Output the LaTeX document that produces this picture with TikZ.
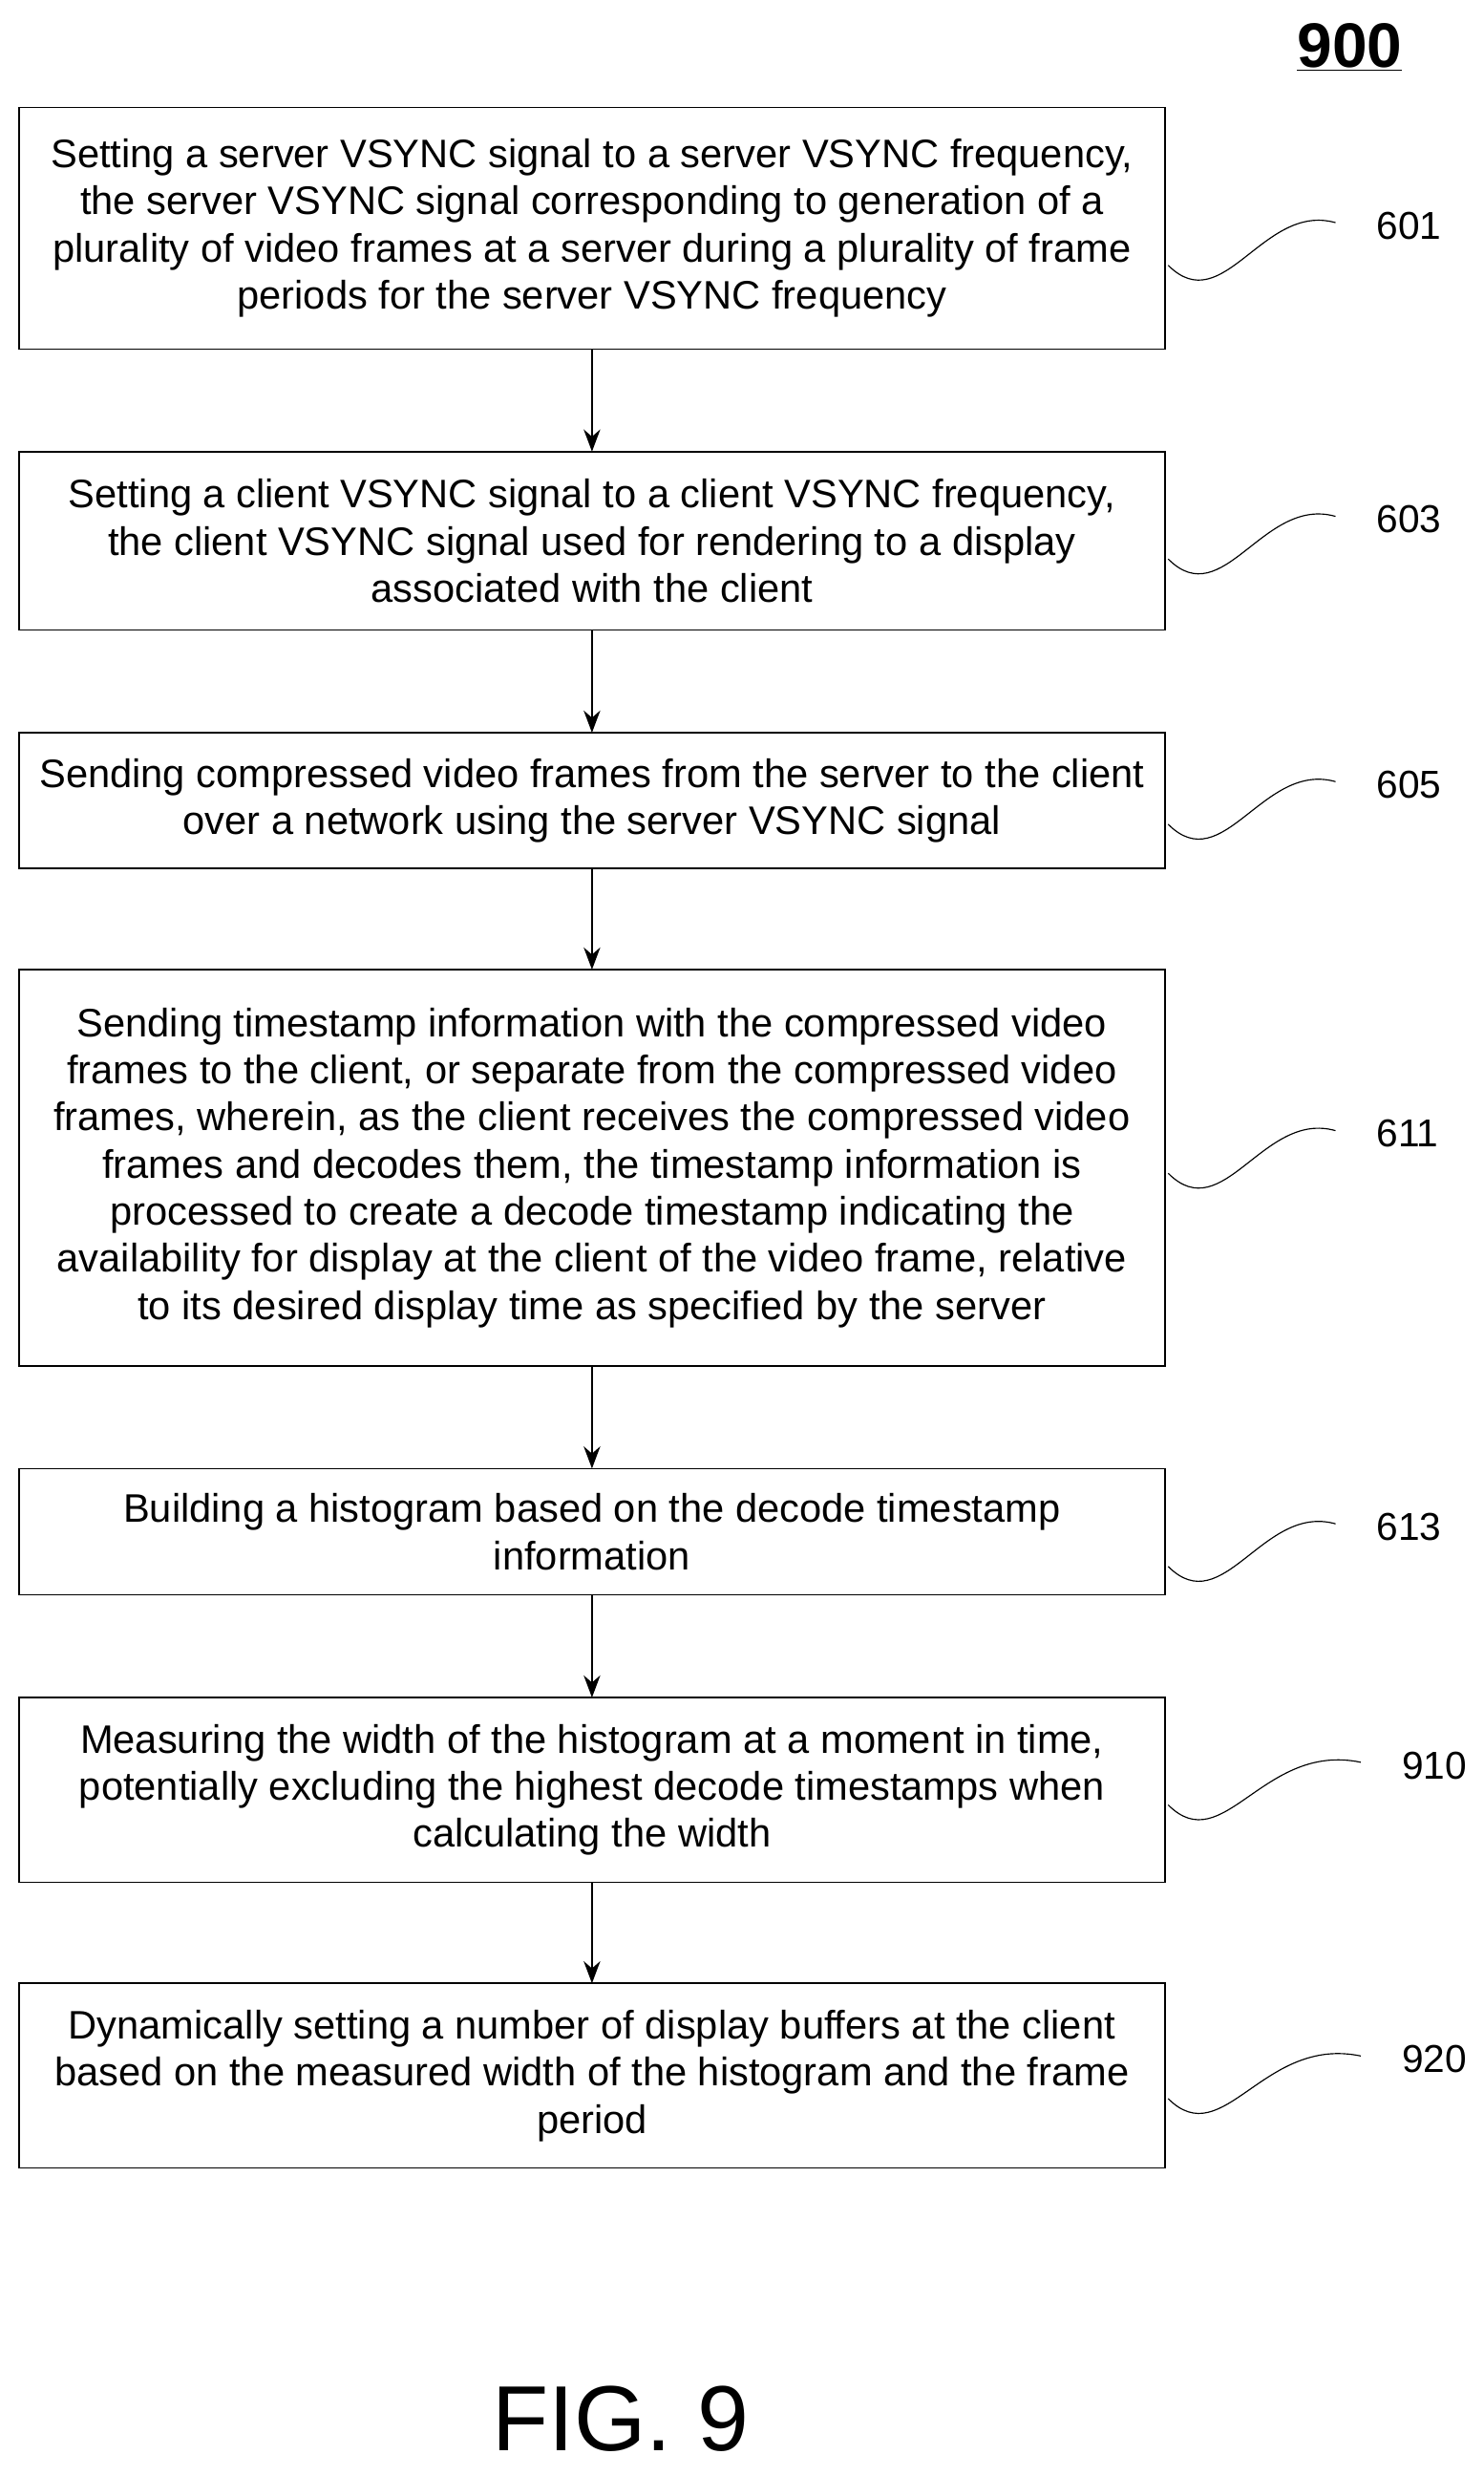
\documentclass[tikz,border=0pt]{standalone}
\usepackage{fontspec}
\setmainfont{Liberation Sans}
\usetikzlibrary{arrows.meta}
\begin{document}
\begin{tikzpicture}[x=0.03cm,y=-0.03cm,
 box/.style={draw,line width=0.8pt,inner sep=0pt},
 txt/.style={align=center,font=\fontsize{21.5}{25.5}\selectfont},
 lab/.style={font=\fontsize{21}{24}\selectfont,anchor=west},
 arr/.style={-{Stealth[length=12pt,width=9pt]},line width=0.8pt},
 sq/.style={line width=0.6pt}]
\useasboundingbox (0,0) rectangle (940,1568);
\node[font=\bfseries\fontsize{34}{40}\selectfont] (t) at (855,30) {\underline{900}};
\def\bx#1#2#3#4{\draw[box] (12,#2) rectangle (738,#3); \node[txt] (#1) at (375,{(#2+#3)/2}) {#4};
 \coordinate (#1t) at (375,#2); \coordinate (#1b) at (375,#3);}
\bx{a}{68}{221}{Setting a server VSYNC signal to a server VSYNC frequency,\\ the server VSYNC signal corresponding to generation of a\\ plurality of video frames at a server during a plurality of frame\\ periods for the server VSYNC frequency}
\bx{b}{286}{399}{Setting a client VSYNC signal to a client VSYNC frequency,\\ the client VSYNC signal used for rendering to a display\\ associated with the client}
\bx{c}{464}{550}{Sending compressed video frames from the server to the client\\ over a network using the server VSYNC signal}
\bx{d}{614}{865}{Sending timestamp information with the compressed video\\ frames to the client, or separate from the compressed video\\ frames, wherein, as the client receives the compressed video\\ frames and decodes them, the timestamp information is\\ processed to create a decode timestamp indicating the\\ availability for display at the client of the video frame, relative\\ to its desired display time as specified by the server}
\bx{e}{930}{1010}{Building a histogram based on the decode timestamp\\ information}
\bx{f}{1075}{1192}{Measuring the width of the histogram at a moment in time,\\ potentially excluding the highest decode timestamps when\\ calculating the width}
\bx{g}{1256}{1373}{Dynamically setting a number of display buffers at the client\\ based on the measured width of the histogram and the frame\\ period}
\draw[arr] (ab)--(bt); \draw[arr] (bb)--(ct); \draw[arr] (cb)--(dt);
\draw[arr] (db)--(et); \draw[arr] (eb)--(ft); \draw[arr] (fb)--(gt);
\def\lb#1#2#3#4{\node[lab] (#1) at (#2,#3) {#4};
 \coordinate (#1s) at (740,#3+25); \coordinate (#1e) at (#2-22,#3-2);
 \draw[sq] (#1s) .. controls (775,#3+60) and (800,#3-15) .. (#1e);}
\lb{l1}{868}{143}{601}
\lb{l2}{868}{329}{603}
\lb{l3}{868}{497}{605}
\lb{l4}{868}{718}{611}
\lb{l5}{868}{967}{613}
\lb{l6}{884}{1118}{910}
\lb{l7}{884}{1304}{920}
\node[font=\fontsize{50}{60}\selectfont] (fig) at (393,1532) {FIG. 9};
\end{tikzpicture}
\end{document}
